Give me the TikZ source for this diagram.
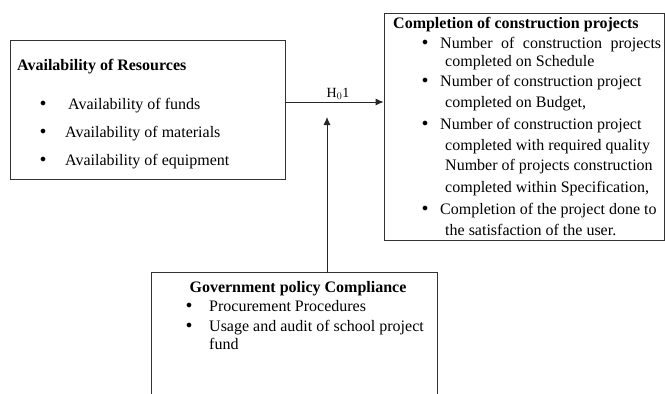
\documentclass[tikz,border=0pt]{standalone}
\usepackage{fontspec}
\setmainfont{Liberation Serif}
\usetikzlibrary{arrows.meta}
\begin{document}
\begin{tikzpicture}[x=1pt,y=-1pt,
  box/.style={draw=black!80,line width=0.8pt,inner sep=0pt,rectangle},
  txt/.style={anchor=base west,inner sep=0pt,font=\fontsize{16}{19}\selectfont},
  ttl/.style={txt,font=\fontsize{16}{19}\selectfont\bfseries},
  bul/.style={anchor=center,inner sep=0pt,font=\fontsize{12}{14}\selectfont},
  arr/.style={draw=black!85,line width=0.8pt,-{Latex[length=8pt,width=7pt]}}]
\useasboundingbox (0,0) rectangle (665,394);
% boxes
\node[box,minimum width=275pt,minimum height=139pt] (res) at (147.5,109.5) {};
\node[box,minimum width=280.5pt,minimum height=227pt] (comp) at (524.25,126.5) {};
\node[box,draw=none,minimum width=285pt,minimum height=130pt] (gov) at (294.5,338) {};
\draw[draw=black!80,line width=0.8pt] (gov.south west) -- (gov.north west) -- (gov.north east) -- (gov.south east);
% left box text
\node[ttl] (r0) at (17,70) {Availability of Resources};
\node[bul] (rb1) at (43,104) {$\bullet$};
\node[txt] (r1) at (68,109) {Availability of funds};
\node[bul] (rb2) at (43,132) {$\bullet$};
\node[txt] (r2) at (65,137) {Availability of materials};
\node[bul] (rb3) at (43,160) {$\bullet$};
\node[txt] (r3) at (65,165) {Availability of equipment};
% right box text
\node[ttl] (c0) at (393,28) {Completion of construction projects};
\node[bul] (cb1) at (425,43) {$\bullet$};
\node[txt] (c1) at (440,48) {\makebox[221pt][s]{Number of construction projects}};
\node[txt] (c2) at (445,66) {completed on Schedule};
\node[bul] (cb2) at (425,81) {$\bullet$};
\node[txt] (c3) at (440,86) {Number of construction project};
\node[txt] (c4) at (445,107) {completed on Budget,};
\node[bul] (cb3) at (425,124) {$\bullet$};
\node[txt] (c5) at (440,129) {Number of construction project};
\node[txt] (c6) at (445,150) {completed with required quality};
\node[txt] (c7) at (445,170) {Number of projects construction};
\node[txt] (c8) at (445,192) {completed within Specification,};
\node[bul] (cb4) at (425,209) {$\bullet$};
\node[txt] (c9) at (440,214) {Completion of the project done to};
\node[txt] (c10) at (445,235) {the satisfaction of the user.};
% bottom box text
\node[ttl,anchor=base] (g0) at (298,292) {Government policy Compliance};
\node[bul] (gb1) at (189,306) {$\bullet$};
\node[txt] (g1) at (209,311) {Procurement Procedures};
\node[bul] (gb2) at (189,326) {$\bullet$};
\node[txt] (g2) at (209,331) {Usage and audit of school project};
\node[txt] (g3) at (209,349) {fund};
% connectors
\coordinate (hy) at (330,102);
\coordinate (vx) at (327,117);
\draw[arr] (res.east |- hy) -- (comp.west |- hy);
\draw[arr] (gov.north -| vx) -- (vx);
\node[inner sep=0pt,font=\fontsize{14}{16}\selectfont,anchor=base] (h) at (338,97) {H$_0$1};
\end{tikzpicture}
\end{document}
